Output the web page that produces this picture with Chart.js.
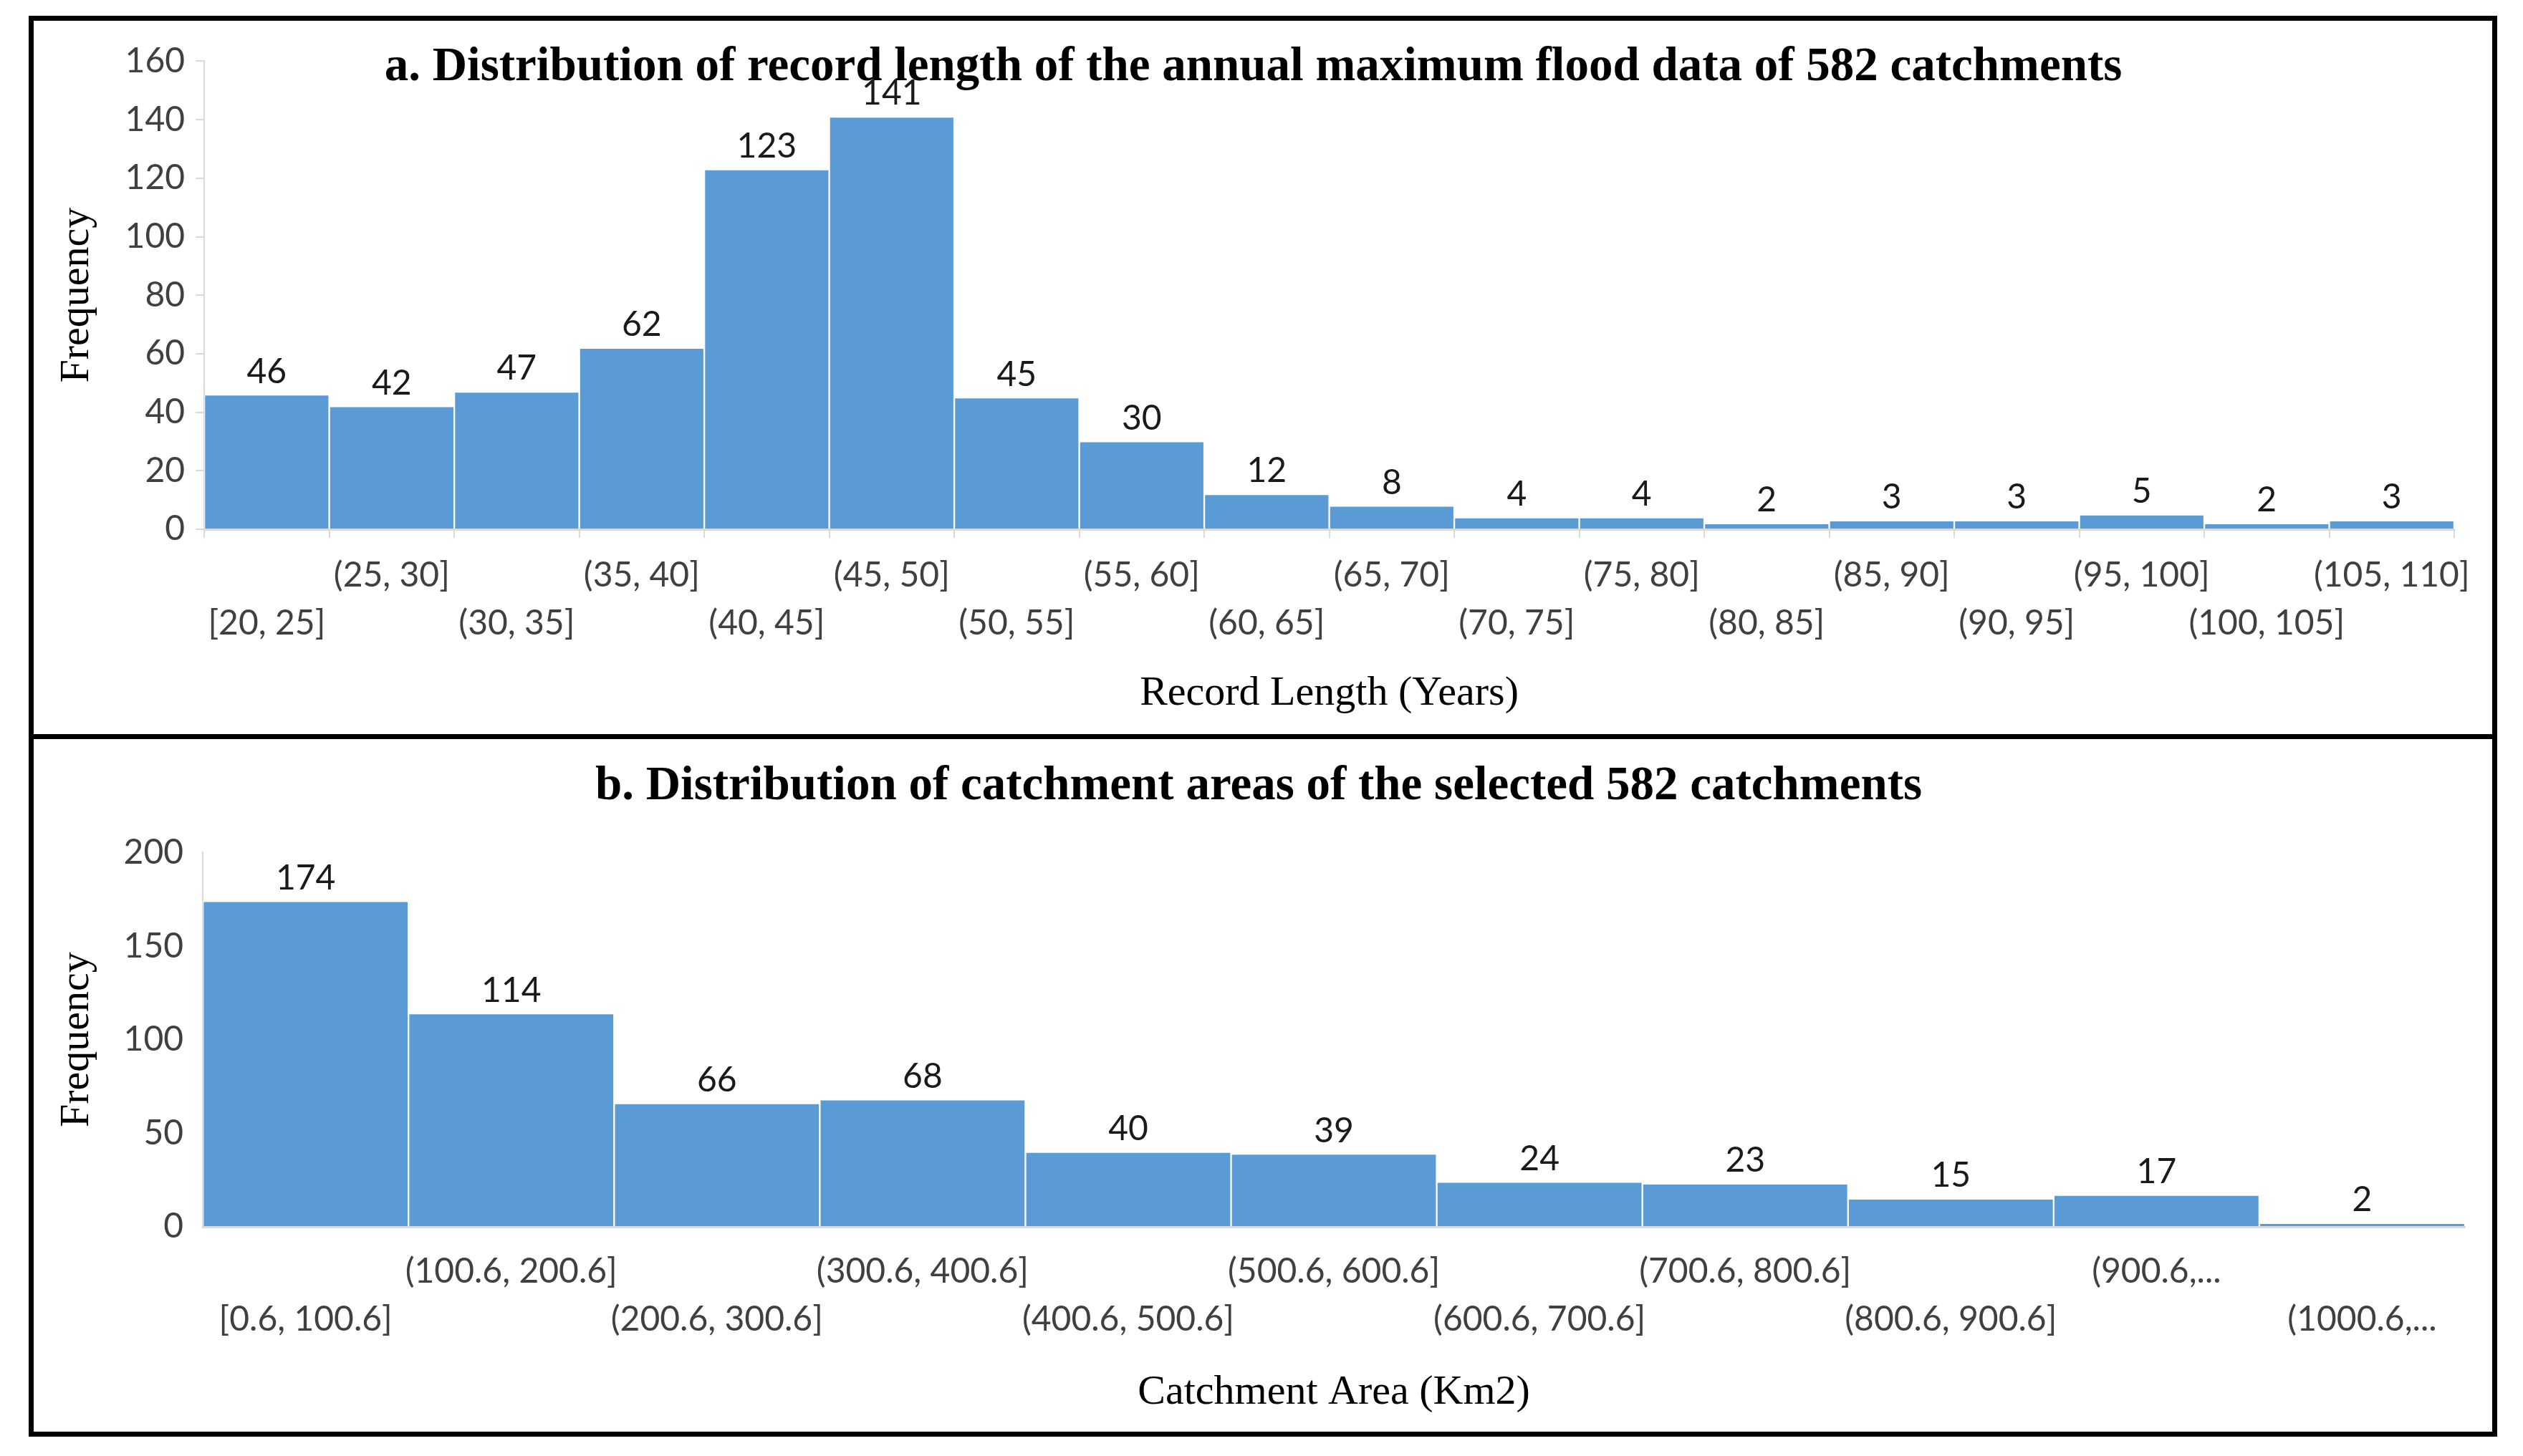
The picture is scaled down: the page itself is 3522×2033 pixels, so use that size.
<!DOCTYPE html>
<html>
<head>
<meta charset="utf-8">
<script src="https://cdn.jsdelivr.net/npm/chart.js@4.4.1/dist/chart.umd.min.js"></script>
<style>
  body { margin: 0; background: #fff; }
  .box { position: absolute; border: 7px solid #000; box-sizing: border-box; }
  .panel { position: absolute; }
</style>
</head>
<body>
<div class="box" style="left:40px; top:22px; width:3446px; height:1010px;"></div>
<div class="box" style="left:40px; top:1025px; width:3446px; height:981px;"></div>
<div class="panel" style="left:47px; top:29px; width:3432px; height:996px;"><canvas id="chartA"></canvas></div>
<div class="panel" style="left:47px; top:1032px; width:3432px; height:967px;"><canvas id="chartB"></canvas></div>
<script>
// a. record length
var recordLabels = ["[20, 25]", "(25, 30]", "(30, 35]", "(35, 40]", "(40, 45]", "(45, 50]",
  "(50, 55]", "(55, 60]", "(60, 65]", "(65, 70]", "(70, 75]", "(75, 80]",
  "(80, 85]", "(85, 90]", "(90, 95]", "(95, 100]", "(100, 105]", "(105, 110]"];
var recordCounts = [46, 42, 47, 62, 123, 141, 45, 30, 12, 8, 4, 4, 2, 3, 3, 5, 2, 3];
var recordTicks = [0, 20, 40, 60, 80, 100, 120, 140, 160];

// b. catchment area
var areaLabels = ["[0.6, 100.6]", "(100.6, 200.6]", "(200.6, 300.6]", "(300.6, 400.6]",
  "(400.6, 500.6]", "(500.6, 600.6]", "(600.6, 700.6]", "(700.6, 800.6]",
  "(800.6, 900.6]", "(900.6,...", "(1000.6,..."];
var areaCounts = [174, 114, 66, 68, 40, 39, 24, 23, 15, 17, 2];
var areaTicks = [0, 50, 100, 150, 200];

var barColor = "#5B9BD5";
var axisGrey = "#d9d9d9";
var sans = "Lato";
var serif = "Liberation Serif";

// labels alternate between two rows, first one on the lower row
function twoRows(labels) {
  return labels.map((l, i) => i % 2 === 0 ? ["", l] : [l, ""]);
}

const valueLabels = {
  id: "valueLabels",
  afterDatasetsDraw(chart) {
    const ctx = chart.ctx;
    ctx.save();
    ctx.font = "48px " + sans;
    ctx.fillStyle = "#1a1a1a";
    ctx.textAlign = "center";
    ctx.textBaseline = "middle";
    chart.getDatasetMeta(0).data.forEach((bar, i) => {
      ctx.fillText(chart.data.datasets[0].data[i], bar.x, bar.y - 32);
    });
    ctx.restore();
  }
};

function makeChart(id, labels, counts, ticks, title, xTitle, opts) {
  const step = ticks[1] - ticks[0];
  return new Chart(id, {
    type: "bar",
    data: {
      labels: twoRows(labels),
      datasets: [{
        data: counts,
        backgroundColor: barColor,
        borderColor: "rgba(255,255,255,0.55)",
        borderWidth: 1.5,
        barPercentage: 1,
        categoryPercentage: 1
      }]
    },
    options: {
      responsive: true,
      maintainAspectRatio: false,
      animation: false,
      devicePixelRatio: 1,
      layout: { padding: opts.layout },
      plugins: {
        legend: { display: false },
        tooltip: { enabled: false },
        title: {
          display: true,
          text: title,
          color: "#000",
          font: { family: serif, weight: "bold", size: 67 },
          padding: opts.titlePad
        }
      },
      scales: {
        x: {
          offset: true,
          grid: { offset: true, drawOnChartArea: false, drawTicks: opts.xTicks, tickLength: 12, color: axisGrey, lineWidth: 2 },
          border: { color: axisGrey, width: 3 },
          ticks: { autoSkip: false, maxRotation: 0, color: "#404040", padding: opts.xPad,
            font: { family: sans, size: 48, lineHeight: 1.4 } },
          title: { display: true, text: xTitle, color: "#000",
            font: { family: serif, size: 58 }, padding: opts.xTitlePad }
        },
        y: {
          min: ticks[0],
          max: ticks[ticks.length - 1],
          grid: { drawOnChartArea: false, drawTicks: opts.yTicks, tickLength: 12, color: axisGrey, lineWidth: 2 },
          border: { color: axisGrey, width: 2 },
          ticks: { stepSize: step, color: "#404040", padding: opts.yPad,
            font: { family: sans, size: 48 } },
          title: { display: true, text: "Frequency", color: "#000",
            font: { family: serif, size: 58 }, padding: { top: 0, bottom: opts.yTitleGap } }
        }
      }
    },
    plugins: [valueLabels]
  });
}

makeChart("chartA", recordLabels, recordCounts, recordTicks,
  "a. Distribution of record length of the annual maximum flood data of 582 catchments",
  "Record Length (Years)",
  { layout: { left: 26, right: 53, top: 0, bottom: 0 }, titlePad: { top: 25, bottom: -49 },
    xTicks: true, yTicks: true, xPad: 19, yPad: 15, yTitleGap: 17,
    xTitlePad: { top: 11, bottom: 21 } });

makeChart("chartB", areaLabels, areaCounts, areaTicks,
  "b. Distribution of catchment areas of the selected 582 catchments",
  "Catchment Area (Km2)",
  { layout: { left: 26, right: 38, top: 0, bottom: 0 }, titlePad: { top: 26, bottom: 52 },
    xTicks: false, yTicks: false, xPad: 29, yPad: 27, yTitleGap: 3,
    xTitlePad: { top: 5, bottom: 19 } });
</script>
</body>
</html>
